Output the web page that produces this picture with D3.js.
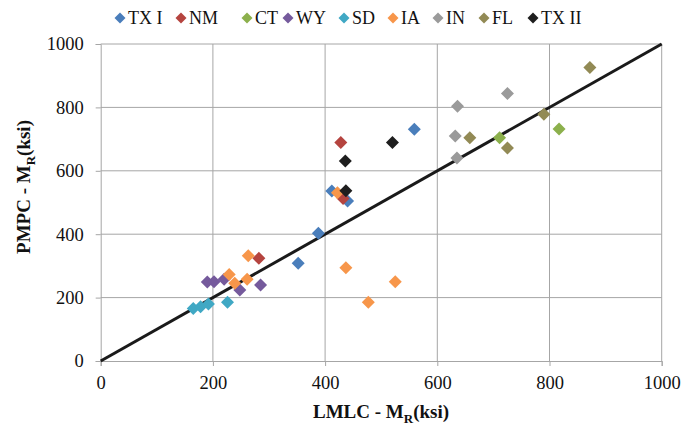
<!DOCTYPE html>
<html>
<head>
<meta charset="utf-8">
<script src="https://cdn.jsdelivr.net/npm/d3@7"></script>
<style>
  html, body { margin: 0; padding: 0; background: #fff; }
  svg { display: block; }
  svg text { font-family: "Liberation Serif", "DejaVu Serif", serif !important; }
</style>
</head>
<body>
<svg id="chart" width="700" height="433"></svg>
<script>
// Resilient modulus: LMLC (x) vs PMPC (y), in ksi, per state
const seriesNames = ["TX I", "NM", "CT", "WY", "SD", "IA", "IN", "FL", "TX II"];
const seriesColors = ["#4a7ebb", "#b5443f", "#8cb04c", "#755a9c", "#40a8c4", "#f7964a", "#9a9a9a", "#928a55", "#1e1e1e"];

const txI  = [[352, 308], [388, 403], [412, 536], [440, 505], [559, 731]];
const nm   = [[282, 324], [428, 689], [432, 513]];
const ct   = [[711, 704], [817, 732]];
const wy   = [[190, 249], [202, 250], [220, 258], [248, 224], [285, 240]];
const sd   = [[165, 166], [178, 171], [192, 180], [226, 185]];
const ia   = [[229, 273], [239, 245], [261, 258], [263, 332], [422, 531], [437, 294], [477, 185], [525, 250]];
const ind  = [[632, 710], [635, 640], [636, 804], [725, 844]];
const fl   = [[658, 704], [725, 672], [790, 778], [872, 926]];
const txII = [[436, 631], [437, 537], [520, 689]];

const seriesValues = [txI, nm, ct, wy, sd, ia, ind, fl, txII];

const xTicks = [0, 200, 400, 600, 800, 1000];
const yTicks = [0, 200, 400, 600, 800, 1000];
const equalityLine = [[0, 0], [1000, 1000]];

const svg = d3.select("#chart");
const x = d3.scaleLinear().domain([0, 1000]).range([100.7, 661.7]);
const y = d3.scaleLinear().domain([0, 1000]).range([361, 44]);
const gridColor = "#a6a6a6";

// gridlines
svg.append("g").selectAll("line.h").data(yTicks.filter(d => d > 0)).join("line")
  .attr("x1", x(0)).attr("x2", x(1000))
  .attr("y1", d => y(d)).attr("y2", d => y(d))
  .attr("stroke", gridColor).attr("stroke-width", 1);
svg.append("g").selectAll("line.v").data(xTicks.filter(d => d > 0)).join("line")
  .attr("x1", d => x(d)).attr("x2", d => x(d))
  .attr("y1", y(0)).attr("y2", y(1000))
  .attr("stroke", gridColor).attr("stroke-width", 1);

// axes
const xAxis = svg.append("g").attr("transform", `translate(0,${y(0)})`)
  .call(d3.axisBottom(x).tickValues(xTicks).tickSize(5).tickPadding(10).tickFormat(d3.format("d")));
const yAxis = svg.append("g").attr("transform", `translate(${x(0)},0)`)
  .call(d3.axisLeft(y).tickValues(yTicks).tickSize(5).tickPadding(12).tickFormat(d3.format("d")));
[xAxis, yAxis].forEach(g => {
  g.attr("font-family", null);
  g.select(".domain").attr("stroke", gridColor).attr("stroke-width", 1);
  g.selectAll(".tick line").attr("stroke", gridColor);
  g.selectAll(".tick text")
    .attr("font-size", 18.5).attr("fill", "#111");
});

// 1:1 line
svg.append("path")
  .datum(equalityLine)
  .attr("d", d3.line().x(d => x(d[0])).y(d => y(d[1])))
  .attr("stroke", "#1a1a1a").attr("stroke-width", 3).attr("fill", "none");

// diamond markers
const diamond = r => `M0,${-r}L${r},0L0,${r}L${-r},0Z`;
seriesValues.forEach((pts, i) => {
  svg.append("g").selectAll("path").data(pts).join("path")
    .attr("d", diamond(6.5))
    .attr("transform", d => `translate(${x(d[0])},${y(d[1])})`)
    .attr("fill", seriesColors[i]);
});

// legend
const legendX = [120, 181, 247, 288, 344, 393, 438, 484, 533];
const legend = svg.append("g");
seriesNames.forEach((name, i) => {
  legend.append("path")
    .attr("d", diamond(5.5))
    .attr("transform", `translate(${legendX[i]},18)`)
    .attr("fill", seriesColors[i]);
  legend.append("text")
    .attr("x", legendX[i] + 8).attr("y", 24)
    .attr("font-size", 18).attr("fill", "#111")
    .text(name);
});

// axis titles
const xt = svg.append("text")
  .attr("x", 381).attr("y", 418)
  .attr("text-anchor", "middle")
  .attr("font-size", 19).attr("font-weight", "bold").attr("fill", "#111");
xt.append("tspan").text("LMLC - M");
xt.append("tspan").attr("dy", 5).attr("font-size", 13).text("R");
xt.append("tspan").attr("dy", -5).text("(ksi)");

const yt = svg.append("text")
  .attr("transform", "translate(30,187) rotate(-90)")
  .attr("text-anchor", "middle")
  .attr("font-size", 19).attr("font-weight", "bold").attr("fill", "#111");
yt.append("tspan").text("PMPC - M");
yt.append("tspan").attr("dy", 5).attr("font-size", 13).text("R");
yt.append("tspan").attr("dy", -5).text("(ksi)");
</script>
</body>
</html>
